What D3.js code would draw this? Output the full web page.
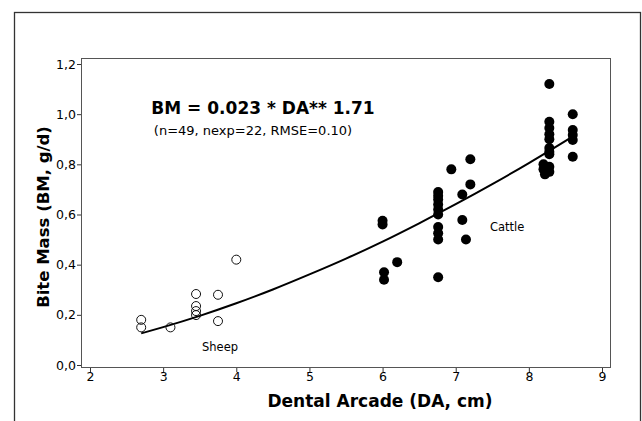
<!DOCTYPE html>
<html>
<head>
<meta charset="utf-8">
<script src="https://cdn.jsdelivr.net/npm/d3@7"></script>
<style>
  body { margin: 0; background: #fff; }
  svg { display: block; font-family: "DejaVu Sans", sans-serif; }
</style>
</head>
<body>
<div class="chart"></div>
<script>
// sheep (open circles) - dental arcade in cm, bite mass g/d
const sheepDA = [2.7, 2.7, 3.1, 3.45, 3.45, 3.45, 3.45, 3.75, 3.75, 4.0];
const sheepBM = [0.18, 0.15, 0.15, 0.283, 0.235, 0.215, 0.199, 0.28, 0.175, 0.42];

// cattle (filled dots)
const cattleDA = [
  6.0, 6.0, 6.02, 6.02, 6.2,
  6.76, 6.76, 6.76, 6.76, 6.76, 6.76, 6.76, 6.76, 6.76, 6.76,
  6.94, 7.09, 7.09, 7.14, 7.2, 7.2,
  8.28, 8.28, 8.28, 8.28, 8.28, 8.28, 8.28, 8.28,
  8.2, 8.28, 8.2, 8.28, 8.22,
  8.6, 8.6, 8.6, 8.6, 8.6
];
const cattleBM = [
  0.575, 0.56, 0.37, 0.34, 0.41,
  0.69, 0.675, 0.66, 0.64, 0.62, 0.60, 0.55, 0.525, 0.50, 0.35,
  0.78, 0.68, 0.578, 0.50, 0.82, 0.72,
  1.12, 0.97, 0.945, 0.92, 0.90, 0.865, 0.85, 0.84,
  0.80, 0.79, 0.78, 0.77, 0.76,
  1.0, 0.937, 0.917, 0.897, 0.83
];

// fitted curve
const fitDA = [2.7, 3.0, 3.5, 4.0, 4.5, 5.0, 5.5, 6.0, 6.5, 7.0, 7.5, 8.0, 8.6];
const fitBM = [0.126, 0.151, 0.196, 0.246, 0.301, 0.361, 0.424, 0.492, 0.565, 0.641, 0.721, 0.805, 0.911];

const xTicks = [2, 3, 4, 5, 6, 7, 8, 9];
const yTicks = [0, 0.2, 0.4, 0.6, 0.8, 1.0, 1.2];

const width = 642;
const height = 421;

const svg = d3.select(".chart")
  .append("svg")
  .attr("width", width)
  .attr("height", height);

// outer border of the figure
svg.append("rect")
  .attr("x", 14.5).attr("y", 12.5)
  .attr("width", 626).attr("height", 420)
  .attr("fill", "none")
  .attr("stroke", "#333")
  .attr("stroke-width", 1.3);

const x = d3.scaleLinear().domain([2, 9]).range([90, 602]);
const y = d3.scaleLinear().domain([0, 1.2]).range([365, 64]);

// plot frame
svg.append("rect")
  .attr("x", 81.5).attr("y", 58.5)
  .attr("width", 529).attr("height", 309)
  .attr("fill", "none")
  .attr("stroke", "#555")
  .attr("stroke-width", 1);

const fmt = (d) => d.toFixed(1).replace(".", ",");

// axes
const xAxis = svg.append("g")
  .attr("transform", "translate(0,368)")
  .call(d3.axisBottom(x).tickValues(xTicks).tickSize(4).tickSizeOuter(0).tickFormat(d3.format("d")));
xAxis.select(".domain").remove();
xAxis.selectAll("text").attr("font-size", 12.5).attr("fill", "#000").attr("dy", "0.8em").attr("y", 3);

const yAxis = svg.append("g")
  .attr("transform", "translate(81,0)")
  .call(d3.axisLeft(y).tickValues(yTicks).tickSize(4).tickSizeOuter(0).tickFormat(fmt));
yAxis.select(".domain").remove();
yAxis.selectAll("text").attr("font-size", 12.5).attr("fill", "#000").attr("x", -5);
svg.selectAll(".tick line").attr("stroke", "#333");
svg.selectAll(".tick text").attr("font-family", "DejaVu Sans, sans-serif");

// fitted curve
const line = d3.line()
  .x((d, i) => x(fitDA[i]))
  .y((d, i) => y(fitBM[i]))
  .curve(d3.curveMonotoneX);

svg.append("path")
  .datum(fitDA)
  .attr("d", line)
  .attr("fill", "none")
  .attr("stroke", "#000")
  .attr("stroke-width", 2);

// sheep points
svg.append("g")
  .selectAll("circle")
  .data(sheepDA)
  .join("circle")
  .attr("cx", (d) => x(d))
  .attr("cy", (d, i) => y(sheepBM[i]))
  .attr("r", 4.5)
  .attr("fill", "none")
  .attr("stroke", "#111")
  .attr("stroke-width", 1);

// cattle points
svg.append("g")
  .selectAll("circle")
  .data(cattleDA)
  .join("circle")
  .attr("cx", (d) => x(d))
  .attr("cy", (d, i) => y(cattleBM[i]))
  .attr("r", 5)
  .attr("fill", "#000");

// annotations
svg.append("text")
  .attr("x", 263).attr("y", 114)
  .attr("text-anchor", "middle")
  .attr("font-size", 17)
  .attr("font-weight", "bold")
  .text("BM = 0.023 * DA** 1.71");

svg.append("text")
  .attr("x", 253).attr("y", 135)
  .attr("text-anchor", "middle")
  .attr("font-size", 13)
  .text("(n=49, nexp=22, RMSE=0.10)");

svg.append("text")
  .attr("x", 490).attr("y", 231)
  .attr("font-size", 11.5)
  .text("Cattle");

svg.append("text")
  .attr("x", 202).attr("y", 351)
  .attr("font-size", 11.5)
  .text("Sheep");

// axis titles
svg.append("text")
  .attr("x", 380).attr("y", 407)
  .attr("text-anchor", "middle")
  .attr("font-size", 17)
  .attr("font-weight", "bold")
  .text("Dental Arcade (DA, cm)");

svg.append("text")
  .attr("transform", "translate(49,217) rotate(-90)")
  .attr("text-anchor", "middle")
  .attr("font-size", 16.5)
  .attr("font-weight", "bold")
  .text("Bite Mass (BM, g/d)");
</script>
</body>
</html>
